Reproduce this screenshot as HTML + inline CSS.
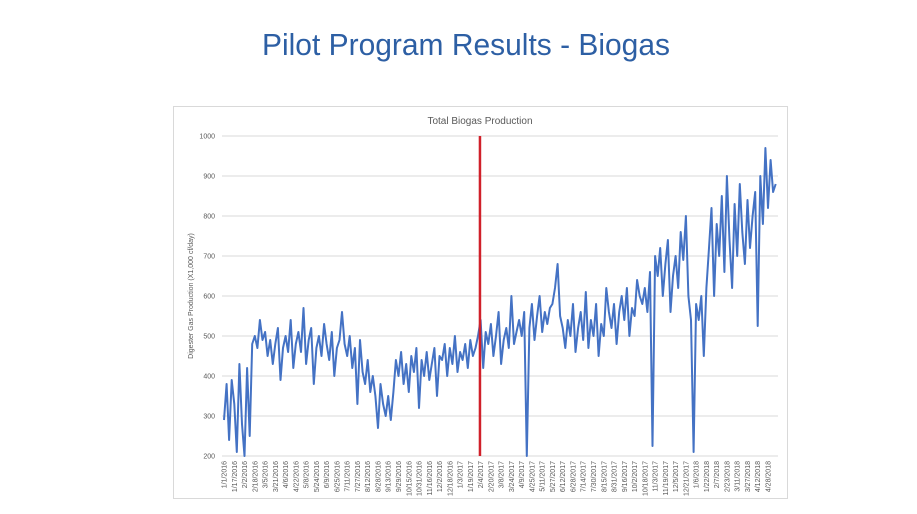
<!DOCTYPE html>
<html><head><meta charset="utf-8"><style>
body{margin:0;background:#fff;}
svg{display:block;font-family:"Liberation Sans",sans-serif;}
</style></head><body>
<svg width="917" height="514" viewBox="0 0 917 514">
<text x="466" y="55" text-anchor="middle" font-size="31" fill="#2d5fa4" textLength="408" lengthAdjust="spacingAndGlyphs">Pilot Program Results - Biogas</text>
<rect x="173.5" y="106.5" width="614" height="392" fill="#fff" stroke="#d9d9d9"/>
<text x="480" y="124" text-anchor="middle" font-size="10" fill="#595959">Total Biogas Production</text>
<text transform="translate(193,296) rotate(-90)" text-anchor="middle" font-size="7" fill="#595959">Digester Gas Production (X1,000 cf/day)</text>
<g id="grid"></g><g id="ylabels"></g><g id="xlabels"></g>
<path id="series" fill="none" stroke="#4472c4" stroke-width="2" stroke-linejoin="round"/>
<line id="marker" stroke="#d0202a" stroke-width="2.5"/>
</svg>
<script>
const yTicks=[200,300,400,500,600,700,800,900,1000];
const xTickLabels=["1/1/2016","1/17/2016","2/2/2016","2/18/2016","3/5/2016","3/21/2016","4/6/2016","4/22/2016","5/8/2016","5/24/2016","6/9/2016","6/25/2016","7/11/2016","7/27/2016","8/12/2016","8/28/2016","9/13/2016","9/29/2016","10/15/2016","10/31/2016","11/16/2016","12/2/2016","12/18/2016","1/3/2017","1/19/2017","2/4/2017","2/20/2017","3/8/2017","3/24/2017","4/9/2017","4/25/2017","5/11/2017","5/27/2017","6/12/2017","6/28/2017","7/14/2017","7/30/2017","8/15/2017","8/31/2017","9/16/2017","10/2/2017","10/18/2017","11/3/2017","11/19/2017","12/5/2017","12/21/2017","1/6/2018","1/22/2018","2/7/2018","2/23/2018","3/11/2018","3/27/2018","4/12/2018","4/28/2018"];
const sampleStepDays=4;
const markerDay=399;
const production=[290,380,240,390,330,210,430,280,
200,420,250,
480,500,470,540,490,
510,450,490,430,480,520,390,470,500,460,540,420,480,510,460,570,430,490,520,380,470,500,450,530,480,440,510,400,470,490,
560,480,450,500,420,470,330,490,
410,380,440,360,400,350,270,380,330,300,350,290,360,
440,400,460,380,430,360,450,410,470,320,440,400,460,390,430,470,350,450,
440,480,400,470,430,500,410,460,440,480,420,490,450,470,500,
540,420,510,480,530,450,500,560,430,490,520,470,600,480,510,540,500,560,
200,
520,580,490,550,600,510,560,530,570,580,620,680,550,520,
470,540,500,580,460,520,560,490,610,470,540,500,580,450,530,500,620,560,
520,580,480,560,600,540,620,500,570,550,640,600,580,620,560,660,
225,
700,650,720,600,680,740,560,650,700,620,760,690,800,600,540,
210,
580,540,600,450,620,720,820,600,
780,700,850,660,900,740,620,830,700,880,760,680,840,720,800,860,
525,
900,780,970,820,940,860,880];

const X0=224, PXDAY=0.6415, Y0=456, PXU=0.4;
const xDay=d=>X0+d*PXDAY;
const yVal=v=>Y0-(v-200)*PXU;
const NS='http://www.w3.org/2000/svg';
const grid=document.getElementById('grid'), yl=document.getElementById('ylabels'), xl=document.getElementById('xlabels');
yTicks.forEach(t=>{
  const l=document.createElementNS(NS,'line');
  l.setAttribute('x1',222);l.setAttribute('x2',778);
  l.setAttribute('y1',yVal(t));l.setAttribute('y2',yVal(t));
  l.setAttribute('stroke','#d9d9d9');l.setAttribute('stroke-width','1');
  
  
  grid.appendChild(l);
  const tx=document.createElementNS(NS,'text');
  tx.setAttribute('x',215);tx.setAttribute('y',yVal(t)+2.5);
  tx.setAttribute('text-anchor','end');tx.setAttribute('font-size','7');tx.setAttribute('fill','#595959');
  tx.textContent=t;
  
  
  yl.appendChild(tx);
});
xTickLabels.forEach((s,k)=>{
  const x=xDay(k*16);
  const tx=document.createElementNS(NS,'text');
  tx.setAttribute('transform','translate('+(x+2.5)+',461) rotate(-90)');
  tx.setAttribute('text-anchor','end');tx.setAttribute('font-size','7');tx.setAttribute('fill','#595959');
  tx.textContent=s;
  
  
  xl.appendChild(tx);
});
let d='';
production.forEach((v,i)=>{d+=(i?'L':'M')+xDay(i*sampleStepDays).toFixed(1)+' '+yVal(v).toFixed(1);});
document.getElementById('series').setAttribute('d',d);
const m=document.getElementById('marker');
m.setAttribute('x1',xDay(markerDay));m.setAttribute('x2',xDay(markerDay));
m.setAttribute('y1',yVal(1000));m.setAttribute('y2',yVal(200));
</script>
</body></html>
